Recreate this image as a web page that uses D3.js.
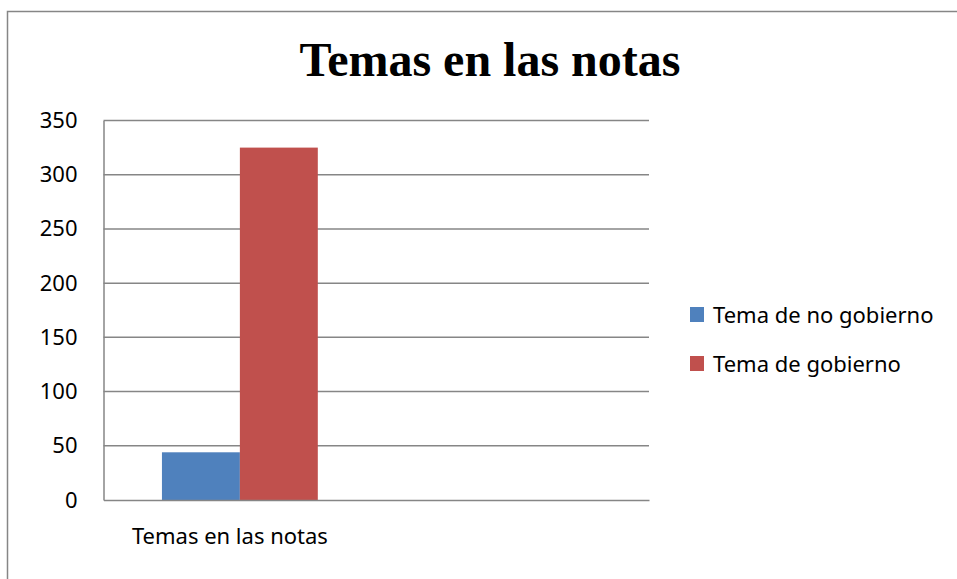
<!DOCTYPE html>
<html>
<head>
<meta charset="utf-8">
<script src="https://cdn.jsdelivr.net/npm/d3@7"></script>
<style>
  body { margin: 0; background: #fff; }
  svg { display: block; }
  .tick text { font-family: "Noto Sans", sans-serif; font-size: 22px; fill: #000; }
</style>
</head>
<body>
<div id="chart"></div>
<script>
"use strict"

// data
let categories = ["Temas en las notas", ""];
let seriesNames = ["Tema de no gobierno", "Tema de gobierno"];
let seriesColors = ["#4f81bd", "#c0504d"];
let noGobierno = [44, null];
let gobierno = [325, null];
let yTicks = [0, 50, 100, 150, 200, 250, 300, 350];

let width = 957, height = 579;
let margin = {left: 103.5, right: 308, top: 120.5, bottom: 79};

let svg = d3.select("#chart").append("svg")
	.attr("width", width)
	.attr("height", height);

// outer chart frame (runs off right and bottom)
svg.append("rect")
	.attr("x", 7.5).attr("y", 11.5)
	.attr("width", width + 10).attr("height", height + 10)
	.attr("fill", "none")
	.attr("stroke", "#868686")
	.attr("stroke-width", 1.5);

svg.append("text")
	.attr("x", 490)
	.attr("y", 76)
	.attr("text-anchor", "middle")
	.style("font-family", "'Liberation Serif', 'Times New Roman', serif")
	.style("font-weight", "bold")
	.style("font-size", "48px")
	.text("Temas en las notas");

let plotW = width - margin.left - margin.right;
let plotH = height - margin.top - margin.bottom;

let g = svg.append("g")
	.attr("transform", `translate(${margin.left},${margin.top})`);

let x0 = d3.scaleBand().domain(categories.map((c, i) => i)).range([0, plotW]);
let x1 = d3.scaleBand().domain(seriesNames).range([0, x0.bandwidth()]).paddingOuter(0.75).paddingInner(0);
let y = d3.scaleLinear().domain([0, 350]).range([plotH, 0]);

// gridlines
g.append("g")
	.selectAll("line")
	.data(yTicks.filter(t => t > 0))
	.enter().append("line")
		.attr("x1", 0).attr("x2", plotW)
		.attr("y1", d => y(d)).attr("y2", d => y(d))
		.attr("stroke", "#868686")
		.attr("stroke-width", 1.5);

let rows = categories.map((c, i) => [noGobierno[i], gobierno[i]]);

g.append("g")
	.selectAll("g")
	.data(rows)
	.enter().append("g")
		.attr("transform", (d, i) => `translate(${x0(i)},0)`)
		.selectAll("rect")
		.data(d => d.map((v, j) => ({name: seriesNames[j], value: v, color: seriesColors[j]})).filter(d => d.value != null))
		.enter().append("rect")
			.attr("x", d => x1(d.name))
			.attr("y", d => y(d.value))
			.attr("width", x1.bandwidth())
			.attr("height", d => y(0) - y(d.value))
			.attr("fill", d => d.color);

// y axis
let yAxis = g.append("g")
	.call(d3.axisLeft(y).tickValues(yTicks).tickSize(0).tickPadding(26));
yAxis.select(".domain").attr("stroke", "#868686").attr("stroke-width", 1.5);

// x axis
let xAxis = g.append("g")
	.attr("transform", `translate(0,${plotH})`)
	.call(d3.axisBottom(x0).tickFormat(i => categories[i]).tickSize(0).tickPadding(28));
xAxis.select(".domain").attr("stroke", "#868686").attr("stroke-width", 1.5);
xAxis.selectAll(".tick text").attr("dx", -10);

// legend
let legend = svg.append("g")
	.attr("transform", "translate(690,307)");
let items = legend.selectAll("g")
	.data(seriesNames)
	.enter().append("g")
		.attr("transform", (d, i) => `translate(0,${i * 49})`);
items.append("rect")
	.attr("width", 14).attr("height", 15)
	.attr("fill", (d, i) => seriesColors[i]);
items.append("text")
	.attr("x", 23)
	.attr("y", 16)
	.style("font-family", "'Noto Sans', sans-serif")
	.style("font-size", "22px")
	.text(d => d);
</script>
</body>
</html>
